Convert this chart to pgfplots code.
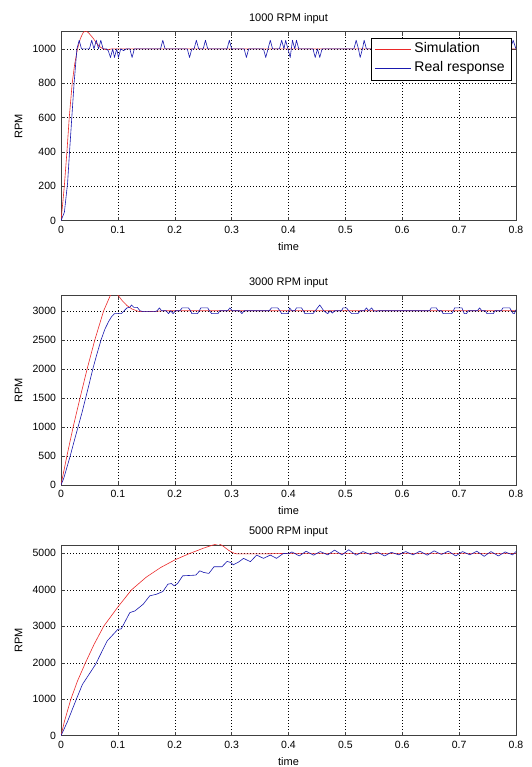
\documentclass[border=0pt]{standalone}
\usepackage{fontspec}
\setmainfont{Liberation Sans}
\usepackage{pgfplots}
\pgfplotsset{compat=1.18}
\definecolor{simred}{RGB}{235,40,40}
\definecolor{realblue}{RGB}{25,25,175}
\pgfplotsset{
  mstyle/.style={
    scale only axis, width=455pt,
    xmin=0, xmax=0.8,
    xtick={0,0.1,0.2,0.3,0.4,0.5,0.6,0.7,0.8},
    tick align=inside, xtick pos=both, ytick pos=both,
    major tick length=4pt,
    grid=major,
    major grid style={black, line width=0.4pt, dash pattern=on 0.8pt off 2.2pt},
    axis line style={black!75, line width=0.5pt},
    tick style={black!75, line width=0.5pt},
    ticklabel style={font=\fontsize{10.5}{12}\selectfont},
    yticklabel style={xshift=-1.5pt},
    xticklabel style={yshift=-2pt},
    /pgf/number format/assume math mode=true,
    /pgf/number format/1000 sep={},
    scaled ticks=false,
    xlabel={time}, ylabel={RPM},
    label style={font=\fontsize{11}{13}\selectfont},
    title style={font=\fontsize{11}{13}\selectfont, at={(0.5,1)}, anchor=center, yshift=7.5pt},
    xlabel style={at={(axis description cs:0.5,0)}, anchor=center, yshift=-26pt},
    ylabel style={at={(axis description cs:-0.0934,0.5)}, anchor=center},
    every axis plot/.append style={line width=0.6pt, line join=round, no markers},
  }
}
\begin{document}
\begin{tikzpicture}
\useasboundingbox (0,0) rectangle (531pt,767pt);
% ---------- Panel 1 ----------
\begin{axis}[mstyle, at={(61pt,546.3pt)}, anchor=south west, height=189pt,
  ymin=0, ymax=1100, ytick={0,200,400,600,800,1000},
  title={1000 RPM input},
  legend style={at={(1,1)}, anchor=north east, xshift=-5pt, yshift=-6pt,
    font=\fontsize{14}{16}\selectfont, draw=black, fill=white, line width=0.5pt,
    inner xsep=4pt, inner ysep=3pt, row sep=2pt, column sep=1pt,
    nodes={text height=10pt, text depth=3pt, inner sep=2pt}},
  legend cell align=left,
  legend image code/.code={\draw[#1] (0pt,0pt) -- (36pt,0pt);}]
\addplot[simred] coordinates {(0,0)(0.003,100)(0.0058,200)(0.0104,400)(0.0145,600)(0.0197,800)(0.024,910)(0.029,1000)(0.034,1060)(0.039,1095)(0.043,1105)(0.048,1095)(0.052,1080)(0.057,1060)(0.062,1035)(0.068,1013)(0.074,1000)(0.08,995)(0.09,1000)(0.8,1000)};
\addlegendentry{Simulation}
\addplot[realblue] coordinates {(0,0)(0.006,50)(0.0116,220)(0.015,400)(0.019,600)(0.023,800)(0.028,1000)(0.032,1050)(0.036,1000)
(0.050,1000)(0.054,1050)(0.058,1000)(0.062,1050)(0.066,1000)(0.070,1050)(0.074,1000)
(0.080,1000)(0.083,990)(0.087,950)(0.091,1000)(0.094,950)(0.098,1000)(0.101,950)(0.105,1000)(0.110,990)(0.115,1000)(0.121,1000)(0.125,950)(0.129,1000)
(0.175,1000)(0.179,1050)(0.183,1000)
(0.222,1000)(0.226,950)(0.230,1000)(0.234,1000)(0.238,1050)(0.242,1000)(0.250,1000)(0.254,1050)(0.258,1000)
(0.292,1000)(0.296,1050)(0.300,1000)
(0.322,1000)(0.326,950)(0.330,1000)
(0.356,1000)(0.360,950)(0.364,1000)(0.368,1050)(0.372,1000)(0.384,1000)(0.388,1050)(0.392,1000)(0.395,1050)(0.399,1000)(0.403,950)(0.407,1050)(0.411,1000)(0.414,1050)(0.418,1000)
(0.443,1000)(0.447,950)(0.451,1000)(0.455,950)(0.459,1000)
(0.515,1000)(0.519,1050)(0.523,1000)(0.526,950)(0.530,1000)(0.533,1050)(0.537,1000)
(0.570,1000)(0.574,1050)(0.578,1000)(0.640,1000)(0.644,950)(0.648,1000)(0.700,1000)(0.704,1050)(0.708,1000)
(0.790,1000)(0.795,1050)(0.8,1000)};
\addlegendentry{Real response}
\end{axis}
% ---------- Panel 2 ----------
\begin{axis}[mstyle, at={(61pt,282pt)}, anchor=south west, height=189.3pt,
  ymin=0, ymax=3260, ytick={0,500,1000,1500,2000,2500,3000},
  title={3000 RPM input}]
\addplot[simred] coordinates {(0,0)(0.0104,500)(0.0214,1000)(0.0335,1500)(0.046,2000)(0.0595,2500)(0.075,3000)(0.0867,3264)(0.094,3330)(0.1,3270)(0.108,3170)(0.116,3090)(0.125,3030)(0.136,2990)(0.15,2985)(0.165,2990)(0.18,3000)(0.8,3000)};
\addplot[realblue] coordinates {(0,0)(0.005,120)(0.01,290)(0.0162,500)(0.023,750)(0.030,1000)(0.037,1250)(0.0434,1500)(0.05,1760)(0.056,2000)(0.063,2250)(0.0705,2500)(0.077,2680)(0.084,2820)(0.089,2900)(0.094,2950)(0.106,2950)(0.111,3000)(0.116,3050)(0.121,3060)(0.124,3100)(0.128,3060)(0.134,3060)(0.139,3000)(0.145,2985)(0.165,2985)(0.169,3000)(0.173,3050)(0.177,3000)(0.185,3000)(0.189,2950)(0.193,3000)(0.197,2950)(0.201,3000)(0.209,3000)(0.213,3050)(0.224,3050)(0.228,3000)(0.230,2950)(0.240,2950)(0.243,3000)(0.246,3050)(0.258,3050)(0.261,3000)(0.265,2950)(0.276,2950)(0.279,3000)(0.293,3000)(0.297,3050)(0.301,3000)(0.314,3000)(0.318,2950)(0.322,3000)(0.366,3000)(0.370,3050)(0.381,3050)(0.385,3000)(0.388,2950)(0.399,2950)(0.402,3050)(0.406,3000)(0.411,3000)(0.414,3050)(0.423,3050)(0.426,3000)(0.429,2950)(0.443,2950)(0.447,3000)(0.455,3100)(0.462,3000)(0.466,2970)(0.469,2950)(0.473,3000)(0.477,2960)(0.481,3000)(0.493,3000)(0.496,3050)(0.502,3050)(0.506,3000)(0.511,2950)(0.522,2950)(0.526,3000)(0.533,3000)(0.537,3050)(0.541,3000)(0.546,3050)(0.550,3000)(0.555,2990)(0.557,3000)(0.648,3000)(0.651,3050)(0.660,3050)(0.663,3000)(0.669,3000)(0.672,2950)(0.687,2950)(0.690,3000)(0.692,3050)(0.705,3050)(0.707,3000)(0.709,2950)(0.713,2950)(0.716,3000)(0.732,3000)(0.736,3050)(0.740,3000)(0.746,3000)(0.749,2950)(0.760,2950)(0.763,3000)(0.774,3000)(0.777,3050)(0.789,3050)(0.792,3000)(0.795,2950)(0.797,2950)(0.8,3020)};
\end{axis}
% ---------- Panel 3 ----------
\begin{axis}[mstyle, at={(61pt,31.3pt)}, anchor=south west, height=190.7pt,
  ymin=0, ymax=5230, ytick={0,1000,2000,3000,4000,5000},
  title={5000 RPM input}]
\addplot[simred] coordinates {(0,0)(0.006,390)(0.0173,1000)(0.029,1500)(0.043,2000)(0.058,2500)(0.075,3000)(0.1,3530)(0.124,4000)(0.15,4350)(0.175,4610)(0.2,4820)(0.225,4990)(0.25,5140)(0.265,5220)(0.277,5270)(0.285,5200)(0.295,5080)(0.305,5000)(0.31,4985)(0.35,4985)(0.4,5000)(0.8,5000)};
\addplot[realblue] coordinates {(0,0)(0.0116,394)(0.026,963)(0.0376,1404)(0.0607,1954)(0.081,2596)(0.1,2917)(0.106,2930)(0.121,3376)(0.130,3422)(0.1445,3606)(0.156,3835)(0.168,3881)(0.179,3954)(0.188,4156)(0.194,4174)(0.199,4110)(0.205,4174)(0.214,4385)(0.237,4404)(0.244,4523)(0.251,4477)(0.26,4450)(0.269,4633)(0.283,4633)(0.292,4780)(0.298,4752)(0.303,4688)(0.312,4760)(0.321,4863)(0.333,4772)(0.344,4954)(0.356,4863)(0.368,4954)(0.379,4863)(0.391,5000)(0.40,4990)(0.406,5040)(0.419,4930)(0.431,5060)(0.444,4950)(0.456,5050)(0.469,4960)(0.481,5090)(0.494,4960)(0.506,5100)(0.519,4950)(0.531,5050)(0.544,4970)(0.556,5040)(0.569,4930)(0.581,5030)(0.594,4960)(0.606,5050)(0.619,4960)(0.631,5060)(0.644,4950)(0.656,5070)(0.669,4970)(0.681,5060)(0.694,4930)(0.706,5050)(0.719,4960)(0.731,5060)(0.744,4920)(0.756,5050)(0.769,4930)(0.781,5040)(0.794,4960)(0.8,5050)};
\end{axis}
\end{tikzpicture}
\end{document}
